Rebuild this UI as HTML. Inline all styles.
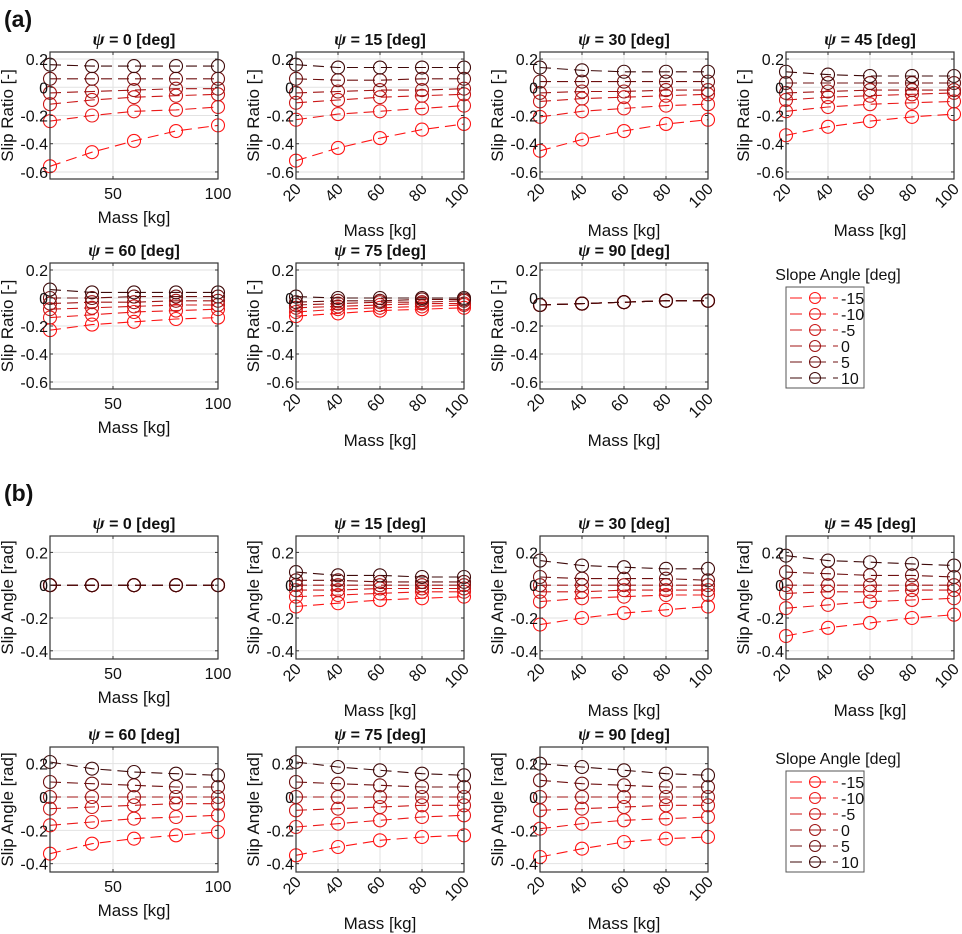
<!DOCTYPE html>
<html><head><meta charset="utf-8">
<style>
html,body{margin:0;padding:0;background:#fff;}
svg{display:block;font-family:"Liberation Sans",Arial,sans-serif;}
</style></head>
<body>
<svg id="fig" width="962" height="934" viewBox="0 0 962 934"></svg>
<script>
const masses=[20,40,60,80,100];
const slopeAngles=[-15,-10,-5,0,5,10];
const psiValues=[0,15,30,45,60,75,90];
const yTicksRatio=[-0.6,-0.4,-0.2,0,0.2];
const yTicksAngle=[-0.4,-0.2,0,0.2];
const xTicksFirst=[50,100];
const xTicksOther=[20,40,60,80,100];
// Slip ratio, one array per psi; rows = slope angles -15..10
const sr0=[[-0.56,-0.46,-0.38,-0.31,-0.27],[-0.24,-0.20,-0.17,-0.16,-0.14],[-0.12,-0.09,-0.07,-0.06,-0.05],[-0.04,-0.03,-0.02,-0.01,-0.01],[0.06,0.06,0.06,0.06,0.06],[0.16,0.15,0.15,0.15,0.15]];
const sr15=[[-0.52,-0.43,-0.36,-0.30,-0.26],[-0.23,-0.19,-0.17,-0.15,-0.13],[-0.11,-0.09,-0.07,-0.06,-0.05],[-0.04,-0.03,-0.02,-0.02,-0.01],[0.06,0.05,0.05,0.06,0.06],[0.16,0.14,0.14,0.14,0.14]];
const sr30=[[-0.45,-0.37,-0.31,-0.26,-0.23],[-0.21,-0.17,-0.15,-0.13,-0.12],[-0.10,-0.08,-0.07,-0.06,-0.05],[-0.04,-0.03,-0.03,-0.02,-0.02],[0.04,0.04,0.04,0.04,0.04],[0.14,0.12,0.11,0.11,0.11]];
const sr45=[[-0.34,-0.28,-0.24,-0.21,-0.19],[-0.17,-0.14,-0.12,-0.11,-0.10],[-0.09,-0.07,-0.06,-0.05,-0.04],[-0.04,-0.03,-0.02,-0.02,-0.02],[0.03,0.03,0.03,0.03,0.03],[0.11,0.09,0.08,0.08,0.08]];
const sr60=[[-0.23,-0.19,-0.17,-0.15,-0.14],[-0.14,-0.12,-0.10,-0.09,-0.08],[-0.08,-0.07,-0.06,-0.05,-0.05],[-0.04,-0.03,-0.03,-0.02,-0.02],[0.00,0.00,0.01,0.01,0.01],[0.06,0.04,0.04,0.04,0.04]];
const sr75=[[-0.13,-0.11,-0.09,-0.08,-0.07],[-0.10,-0.08,-0.07,-0.06,-0.05],[-0.07,-0.06,-0.05,-0.04,-0.04],[-0.05,-0.04,-0.03,-0.03,-0.02],[-0.03,-0.02,-0.02,-0.01,-0.01],[0.01,0.00,0.00,0.00,0.00]];
const sr90=[[-0.05,-0.04,-0.03,-0.02,-0.02],[-0.05,-0.04,-0.03,-0.02,-0.02],[-0.05,-0.04,-0.03,-0.02,-0.02],[-0.05,-0.04,-0.03,-0.02,-0.02],[-0.05,-0.04,-0.03,-0.02,-0.02],[-0.05,-0.04,-0.03,-0.02,-0.02]];
// Slip angle
const sa0=[[0,0,0,0,0],[0,0,0,0,0],[0,0,0,0,0],[0,0,0,0,0],[0,0,0,0,0],[0,0,0,0,0]];
const sa15=[[-0.13,-0.11,-0.09,-0.08,-0.07],[-0.07,-0.06,-0.05,-0.04,-0.04],[-0.03,-0.03,-0.02,-0.02,-0.02],[0,0,0,0,0],[0.03,0.03,0.02,0.02,0.02],[0.08,0.06,0.06,0.05,0.05]];
const sa30=[[-0.24,-0.20,-0.17,-0.15,-0.13],[-0.10,-0.08,-0.07,-0.06,-0.06],[-0.04,-0.04,-0.03,-0.03,-0.03],[0,0,0,0,0],[0.05,0.04,0.04,0.04,0.03],[0.15,0.12,0.11,0.10,0.10]];
const sa45=[[-0.31,-0.26,-0.23,-0.20,-0.18],[-0.14,-0.12,-0.10,-0.09,-0.08],[-0.05,-0.04,-0.04,-0.03,-0.03],[0,0,0,0,0],[0.08,0.07,0.06,0.06,0.05],[0.18,0.15,0.14,0.13,0.12]];
const sa60=[[-0.34,-0.28,-0.25,-0.23,-0.21],[-0.17,-0.15,-0.13,-0.12,-0.11],[-0.07,-0.06,-0.05,-0.04,-0.04],[0,0,0,0,0],[0.09,0.08,0.07,0.06,0.06],[0.21,0.17,0.15,0.14,0.13]];
const sa75=[[-0.35,-0.30,-0.26,-0.24,-0.23],[-0.18,-0.16,-0.14,-0.12,-0.11],[-0.08,-0.07,-0.06,-0.05,-0.05],[0,0,0,0,0],[0.09,0.08,0.07,0.06,0.06],[0.21,0.18,0.16,0.14,0.13]];
const sa90=[[-0.36,-0.31,-0.27,-0.25,-0.24],[-0.19,-0.16,-0.14,-0.13,-0.12],[-0.08,-0.07,-0.06,-0.05,-0.05],[0,0,0,0,0],[0.10,0.08,0.07,0.06,0.06],[0.20,0.18,0.16,0.14,0.13]];
const ratioPanels=[sr0,sr15,sr30,sr45,sr60,sr75,sr90];
const anglePanels=[sa0,sa15,sa30,sa45,sa60,sa75,sa90];

const colors=['#ff1414','#ec1a1a','#cc1818','#a01515','#6e1010','#3e0a0a'];
const NS='http://www.w3.org/2000/svg';
const svg=document.getElementById('fig');
function mk(tag,attrs,parent){const e=document.createElementNS(NS,tag);for(const k in attrs)e.setAttribute(k,attrs[k]);(parent||svg).appendChild(e);return e;}

const colLeft=[50,296,540,786], W=168;
const rowsA=[[52,179],[263,389]], rowsB=[[536,659],[747,872]];

function drawPanel(idx,data,top,bottom,ymin,ymax,yTicks,ylabel,kind){
  const c=idx%4;
  const x0=colLeft[c], x1=x0+W;
  const g=mk('g',{});
  
  
  const sx=v=>x0+(v-20)/80*W;
  const sy=v=>bottom-(v-ymin)/(ymax-ymin)*(bottom-top);
  const xt = c===0?xTicksFirst:xTicksOther;
  xt.forEach(t=>{const l=mk('line',{x1:sx(t),x2:sx(t),y1:top,y2:bottom,stroke:'#e2e2e2','stroke-width':1},g);});
  yTicks.forEach(t=>{const l=mk('line',{x1:x0,x2:x1,y1:sy(t),y2:sy(t),stroke:'#e2e2e2','stroke-width':1},g);});
  data.forEach((ser,si)=>{
    const pts=ser.map((v,i)=>sx(masses[i]).toFixed(1)+','+sy(v).toFixed(1)).join(' ');
    const pl=mk('polyline',{points:pts,fill:'none',stroke:colors[si],'stroke-width':1.1,'stroke-dasharray':'11,6'},g);
    
    
    ser.forEach((v,i)=>{const ci=mk('circle',{cx:sx(masses[i]),cy:sy(v),r:6.5,fill:'none',stroke:colors[si],'stroke-width':1.1},g);
      
      });
  });
  const bx=mk('rect',{x:x0,y:top,width:W,height:bottom-top,fill:'none',stroke:'#333','stroke-width':1.2},g);
  
  yTicks.forEach(t=>{
    mk('line',{x1:x0,x2:x0+3,y1:sy(t),y2:sy(t),stroke:'#333'},g);
    mk('line',{x1:x1,x2:x1-3,y1:sy(t),y2:sy(t),stroke:'#333'},g);
    const tx=mk('text',{x:x0-2,y:sy(t)+6,'text-anchor':'end','font-size':16,fill:'#111'},g);
    tx.textContent=(t===0?'0':String(t));
    
  });
  xt.forEach(t=>{
    mk('line',{x1:sx(t),x2:sx(t),y1:bottom,y2:bottom-3,stroke:'#333'},g);
    mk('line',{x1:sx(t),x2:sx(t),y1:top,y2:top+3,stroke:'#333'},g);
    let tx;
    if(c===0){tx=mk('text',{x:sx(t),y:bottom+20,'text-anchor':'middle','font-size':16,fill:'#111'},g);}
    else{const X=sx(t)+6,Y=bottom+11;tx=mk('text',{x:X,y:Y,'text-anchor':'end','font-size':16,fill:'#111',transform:'rotate(-45 '+X+' '+Y+')'},g);}
    tx.textContent=String(t);
    
  });
  const xl=mk('text',{x:(x0+x1)/2,y:bottom+(c===0?44:57),'text-anchor':'middle','font-size':17,fill:'#111'},g);
  xl.textContent='Mass [kg]';
  
  const ylx=x0-37, yly=(top+bottom)/2;
  const yl=mk('text',{x:ylx,y:yly,'text-anchor':'middle','font-size':17,fill:'#111',transform:'rotate(-90 '+ylx+' '+yly+')'},g);
  yl.textContent=ylabel;
  
  const ti=mk('text',{x:(x0+x1)/2,y:top-7,'text-anchor':'middle','font-size':16,'font-weight':'bold',fill:'#111'},g);
  const ts=mk('tspan',{'font-style':'italic','font-family':'"Liberation Serif",serif','font-size':18},ti);ts.textContent='ψ';
  const ts2=mk('tspan',{},ti);ts2.textContent=' = '+psiValues[idx]+' [deg]';
  
}

function drawLegend(top,kind){
  const g=mk('g',{});
  
  
  const t=mk('text',{x:838,y:top-7,'text-anchor':'middle','font-size':16,fill:'#111'},g);
  t.textContent='Slope Angle [deg]';
  
  const b=mk('rect',{x:786,y:top,width:78,height:101,fill:'#fff',stroke:'#555'},g);
  
  slopeAngles.forEach((a,i)=>{
    const y=top+11+i*16;
    const e=mk('g',{},g);
    
    
    mk('line',{x1:790,x2:802,y1:y,y2:y,stroke:colors[i]},e);
    mk('line',{x1:809,x2:826,y1:y,y2:y,stroke:colors[i]},e);
    mk('line',{x1:833,x2:838,y1:y,y2:y,stroke:colors[i]},e);
    mk('circle',{cx:815,cy:y,r:5.5,fill:'none',stroke:colors[i]},e);
    const tx=mk('text',{x:841,y:y+6,'font-size':16,fill:'#111'},e);
    tx.textContent=String(a);
  });
}

for(let i=0;i<7;i++){const r=Math.floor(i/4);drawPanel(i,ratioPanels[i],rowsA[r][0],rowsA[r][1],-0.65,0.25,yTicksRatio,'Slip Ratio [-]','slip-ratio');}
for(let i=0;i<7;i++){const r=Math.floor(i/4);drawPanel(i,anglePanels[i],rowsB[r][0],rowsB[r][1],-0.45,0.3,yTicksAngle,'Slip Angle [rad]','slip-angle');}
drawLegend(287,'slip-ratio');
drawLegend(771,'slip-angle');
const la=mk('text',{x:4,y:27,'font-size':23,'font-weight':'bold',fill:'#111'});la.textContent='(a)';

const lb=mk('text',{x:4,y:501,'font-size':23,'font-weight':'bold',fill:'#111'});lb.textContent='(b)';

</script>
</body></html>
